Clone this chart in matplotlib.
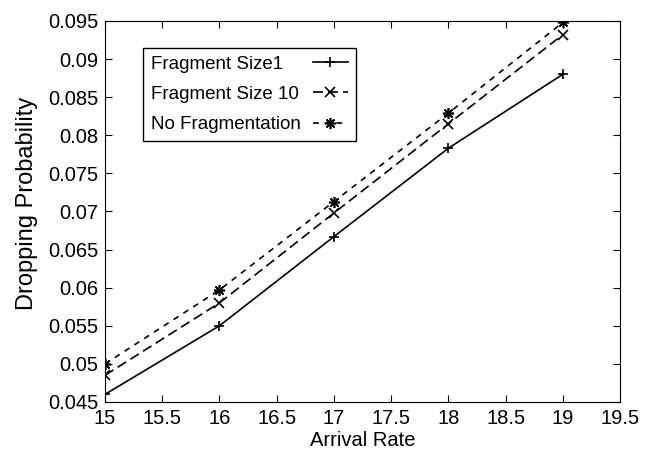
import matplotlib
matplotlib.use("Agg")
import matplotlib.pyplot as plt

plt.rcParams['font.family'] = ['Liberation Sans', 'DejaVu Sans']

arrival = [15, 16, 17, 18, 19]
frag1 = [0.0460, 0.0550, 0.0667, 0.0783, 0.0880]
frag10 = [0.0485, 0.0580, 0.0698, 0.0815, 0.0932]
nofrag = [0.0500, 0.0597, 0.0713, 0.0829, 0.0948]

xticks = [15, 15.5, 16, 16.5, 17, 17.5, 18, 18.5, 19, 19.5]
xlabels = ['15', '15.5', '16', '16.5', '17', '17.5', '18', '18.5', '19', '19.5']
yticks = [0.045, 0.05, 0.055, 0.06, 0.065, 0.07, 0.075, 0.08, 0.085, 0.09, 0.095]
ylabels = ['0.045', '0.05', '0.055', '0.06', '0.065', '0.07', '0.075', '0.08',
           '0.085', '0.09', '0.095']

fig = plt.figure(figsize=(6.62, 4.61), dpi=100)
ax = fig.add_axes([0.1586, 0.128, 0.778, 0.8265])

ax.plot(arrival, frag1, color='k', lw=1.2, ls='-', marker='+', ms=7, mew=1.2,
        label='Fragment Size1')
ax.plot(arrival, frag10, color='k', lw=1.2, ls=(0, (6, 3)), marker='x', ms=7, mew=1.2,
        label='Fragment Size 10')
ax.plot(arrival, nofrag, color='k', lw=1.2, ls=(0, (3.5, 3.5)), marker=(8, 2, 0), ms=8,
        mew=1.2, label='No Fragmentation')

ax.set_xlim(15, 19.5)
ax.set_ylim(0.045, 0.095)
ax.set_xticks(xticks)
ax.set_xticklabels(xlabels)
ax.set_yticks(yticks)
ax.set_yticklabels(ylabels)
ax.tick_params(direction='in', top=True, right=True, labelsize=14.5, length=5, pad=5)
ax.set_xlabel('Arrival Rate', fontsize=14.5, labelpad=2)
ax.set_ylabel('Dropping Probability', fontsize=17)
ax.yaxis.set_label_coords(-0.131, 0.521)

leg = ax.legend(loc='upper left', bbox_to_anchor=(0.0738, 0.929), borderaxespad=0,
                fontsize=13.5, markerfirst=False, fancybox=False, framealpha=1,
                edgecolor='k', handlelength=1.9, handletextpad=0.65,
                borderpad=0.4, labelspacing=0.7)
leg.get_frame().set_linewidth(1.0)

# labels left aligned, handles lined up on the right
fig.canvas.draw()
r = fig.canvas.get_renderer()
widths = [t.get_window_extent(r).width for t in leg.get_texts()]
wmax = max(widths)
items = []
for col in leg._legend_handle_box.get_children():
    items.extend(col.get_children())
for item, w in zip(items, widths):
    item.sep = item.sep + (wmax - w) * 72.0 / fig.dpi

fig.savefig('out.png', dpi=100)
